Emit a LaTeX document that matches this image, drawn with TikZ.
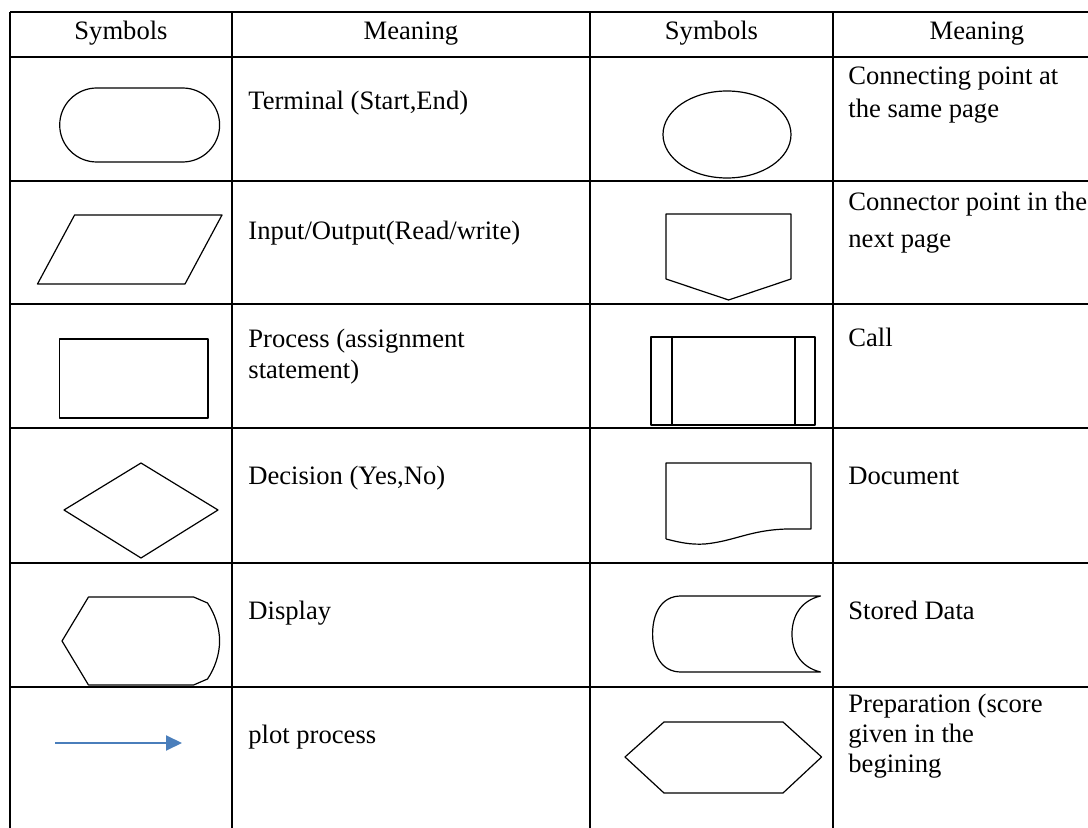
\documentclass[tikz,border=0pt]{standalone}
\usepackage{fontspec}
\setmainfont{Liberation Serif}
\usetikzlibrary{arrows.meta}

\definecolor{arrowblue}{RGB}{74,126,187}

\tikzset{
  grid line/.style={line width=0.8pt},
  symb/.style={line width=0.6pt, line join=round},
  head text/.style={anchor=base, inner sep=0pt, font=\fontsize{13.3}{16}\selectfont},
  cell text/.style={anchor=base west, inner sep=0pt, align=left, font=\fontsize{13.3}{#1}\selectfont},
  cell text/.default=16
}

\begin{document}
\begin{tikzpicture}[x=0.5pt,y=0.5pt,yscale=-1,xscale=1]
    \useasboundingbox (0,0) rectangle (1088,828);

    %Table lines
    \foreach \y in {12,57,181,304,428,563,687}
      \draw[grid line] (10,\y) -- (1088,\y);
    \foreach \x in {10,232,590,833}
      \draw[grid line] (\x,12) -- (\x,828);

    % Text Node
    \node[head text] (hSymA) at (121,40) {Symbols};
    \node[head text] (hMeanA) at (411,40) {Meaning};
    \node[head text] (hSymB) at (711.5,40) {Symbols};
    \node[head text] (hMeanB) at (977,40) {Meaning};

    %Shape: Terminal
    \draw[symb, rounded corners=18.5pt] (59.7,88) rectangle (219.6,162);
    % Text Node
    \node[cell text] (tTerm) at (248,110) {Terminal (Start,End)};

    %Shape: Ellipse
    \draw[symb] (727,134.5) ellipse [x radius=64, y radius=43.5];
    % Text Node (base = last line)
    \node[cell text=16.5] (tConSame) at (848,118) {Connecting point at\\the same page};

    %Shape: Parallelogram
    \draw[symb] (74.6,215) -- (222,215) -- (185,284) -- (37.5,284) -- cycle;
    % Text Node
    \node[cell text] (tInOut) at (248,240) {Input/Output(Read/write)};

    %Shape: Off-page connector
    \draw[symb] (666,214) -- (791,214) -- (791,279) -- (728.6,300) -- (666,279) -- cycle;
    % Text Node
    \node[cell text=18.5] (tConNext) at (848,248) {Connector point in the\\next page};

    %Shape: Rectangle
    \draw[symb] (59.7,339) rectangle (208,418);
    % Text Node
    \node[cell text=15.5] (tProc) at (248,379) {Process (assignment\\statement)};

    %Shape: Call
    \draw[symb] (651,337) rectangle (815,425);
    \draw[symb] (672,337) -- (672,425);
    \draw[symb] (795,337) -- (795,425);
    % Text Node
    \node[cell text] (tCall) at (848,347) {Call};

    %Shape: Diamond
    \draw[symb] (141,463) -- (218,510) -- (141,558) -- (64,510) -- cycle;
    % Text Node
    \node[cell text] (tDecide) at (248,485) {Decision (Yes,No)};

    %Shape: Document
    \draw[symb] (666,539) -- (666,463) -- (811,463) -- (811,529) -- (787,529)
      .. controls (750,530) and (735,541) .. (705,544)
      .. controls (690,545) and (678,542) .. (666,539);
    % Text Node
    \node[cell text] (tDoc) at (848,485) {Document};

    %Shape: Display
    \draw[symb] (62,641) -- (88.5,597) -- (193.6,597) -- (207.5,603)
      .. controls (215,614) and (219.6,628) .. (219.6,641)
      .. controls (219.6,654) and (215,668) .. (207.5,679)
      -- (193.6,685) -- (88.5,685) -- cycle;
    % Text Node
    \node[cell text] (tDisp) at (248,620) {Display};

    %Shape: Stored data
    \draw[symb] (681,596) -- (820.5,596)
      .. controls (800,601) and (792,617) .. (792,634)
      .. controls (792,651) and (800,667) .. (820.5,672)
      -- (681,672)
      .. controls (661,672) and (652.6,654) .. (652.6,634)
      .. controls (652.6,614) and (661,596) .. (681,596);
    % Text Node
    \node[cell text] (tStore) at (848,620) {Stored Data};

    %Shape: Flow line
    \coordinate (arrS) at (55,743);
    \coordinate (arrE) at (182,743);
    \draw[arrowblue, line width=1pt, -{Triangle[length=8pt,width=7.5pt]}] (arrS) -- (arrE);
    % Text Node
    \node[cell text] (tPlot) at (248,743) {plot process};

    %Shape: Hexagon
    \draw[symb] (625,757) -- (664,722) -- (783,722) -- (821.6,757) -- (783,793) -- (664,793) -- cycle;
    % Text Node
    \node[cell text=15] (tPrep) at (848,772) {Preparation (score\\given in the\\begining};

\end{tikzpicture}
\end{document}
